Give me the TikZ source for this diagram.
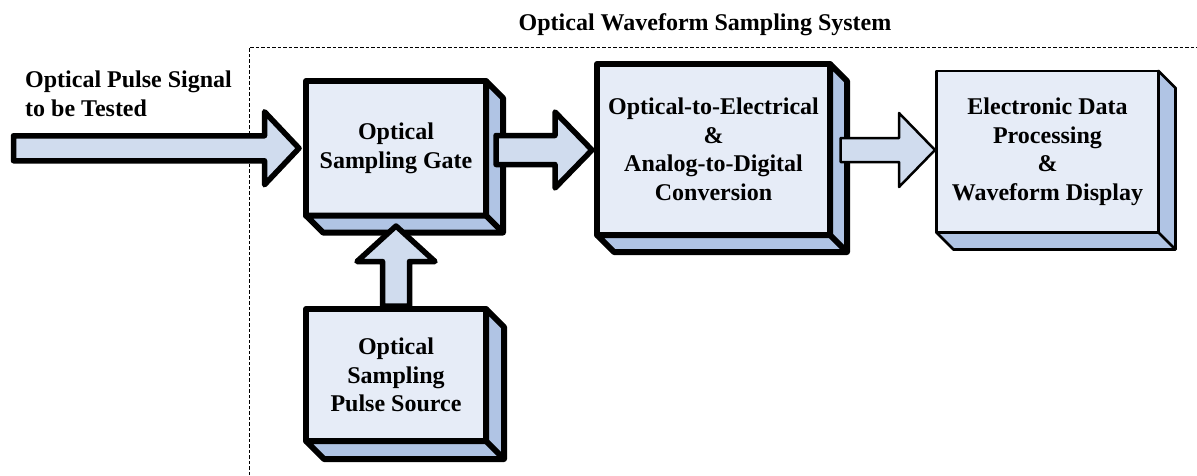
\documentclass[tikz,border=0pt]{standalone}
\usepackage{fontspec}
\setmainfont{Liberation Serif}
\usetikzlibrary{calc}

\definecolor{frontface}{HTML}{E6ECF7}
\definecolor{sideface}{HTML}{B0C4E4}
\definecolor{arrowfill}{HTML}{D0DCEE}

\tikzset{
  txt/.style={font=\bfseries\fontsize{24}{28.5}\selectfont},
  block/.style={txt, draw=black, fill=frontface, align=center, inner sep=0pt,
                outer sep=0pt, line join=round},
  heavy/.style={line width=6pt},
  light/.style={line width=2.8pt},
  slabface/.style={draw=black, fill=sideface, line join=round},
  blockarrow/.style={draw=black, fill=arrowfill, line join=round},
}

% side and bottom faces of a raised block: #1 style, #2 node, #3 depth
\newcommand\slab[3][]{%
  \filldraw[slabface,#1] (#2.north east) -- ++(#3,#3)
    -- ($(#2.south east)+(#3,#3)$) -- ($(#2.south west)+(#3,#3)$)
    -- (#2.south west) -- (#2.south east) -- cycle;
  \draw[slabface,#1] (#2.south east) -- ++(#3,#3);
}

% right-pointing block arrow: #1 style, #2 tail, #3 tip,
% #4 shaft half width, #5 head half width, #6 head length
\newcommand\rightarrowblock[6][]{%
  \filldraw[blockarrow,#1] let \p1=(#2), \p2=(#3) in
    (\x1,\y1+#4pt) -- (\x2-#6pt,\y1+#4pt) -- (\x2-#6pt,\y1+#5pt)
    -- (\x2,\y1) -- (\x2-#6pt,\y1-#5pt) -- (\x2-#6pt,\y1-#4pt)
    -- (\x1,\y1-#4pt) -- cycle;
}

% upward block arrow, same arguments
\newcommand\uparrowblock[6][]{%
  \filldraw[blockarrow,#1] let \p1=(#2), \p2=(#3) in
    (\x1-#4pt,\y1) -- (\x1-#4pt,\y2-#6pt) -- (\x1-#5pt,\y2-#6pt)
    -- (\x1,\y2) -- (\x1+#5pt,\y2-#6pt) -- (\x1+#4pt,\y2-#6pt)
    -- (\x1+#4pt,\y1) -- cycle;
}

\begin{document}
\begin{tikzpicture}[x=1pt,y=-1pt]
  \useasboundingbox (0,0) rectangle (1197,475);

  % system boundary
  \coordinate (frameA) at (249,475);
  \coordinate (frameB) at (249,47);
  \coordinate (frameC) at (1197,47);
  \draw[line width=1pt, dash pattern=on 3.5pt off 2pt] (frameA) -- (frameB) -- (frameC);
  \node[txt, anchor=base] (title) at (705,30.7) {Optical Waveform Sampling System};

  % input label
  \node[txt, align=left, anchor=north west, inner sep=0pt] (inlabel) at (25,71)
    {Optical Pulse Signal\\to be Tested};

  % blocks
  \node[block, heavy, minimum width=180pt, minimum height=134.5pt] (gate) at (396,148.25)
    {Optical\\Sampling Gate};
  \slab[heavy]{gate}{17}

  \node[block, heavy, minimum width=233pt, minimum height=171pt] (oe) at (713.5,149.5)
    {Optical-to-Electrical\\\&\\Analog-to-Digital\\Conversion};
  \slab[heavy]{oe}{17}

  \node[block, light, minimum width=222pt, minimum height=161.5pt] (edp) at (1047.5,151.75)
    {Electronic Data\\Processing\\\&\\Waveform Display};
  \slab[light]{edp}{17}

  \node[block, heavy, minimum width=180pt, minimum height=132pt] (pulse) at (396,375)
    {Optical\\Sampling\\Pulse Source};
  \slab[heavy]{pulse}{18}

  % connectors
  \coordinate (src) at (13.5,148.25);
  \coordinate (a1tip) at ($(gate.west)+(-7,0)$);
  \rightarrowblock[line width=5.5pt]{src}{a1tip}{12.5}{36.5}{34.5}

  \coordinate (a2tail) at ($(gate.east)+(10,1.75)$);
  \coordinate (a2tip) at ($(oe.west)+(-5,0.5)$);
  \rightarrowblock[line width=5.5pt]{a2tail}{a2tip}{14.5}{38}{37}

  \coordinate (a3tail) at ($(oe.east)+(10.5,0.5)$);
  \coordinate (a3tip) at ($(edp.west)+(-1.5,0)$);
  \rightarrowblock[line width=2.5pt]{a3tail}{a3tip}{12}{37}{36}

  \coordinate (a4tail) at ($(pulse.north)+(0,-3)$);
  \coordinate (a4tip) at ($(gate.south)+(0,10.5)$);
  \uparrowblock[line width=5.5pt]{a4tail}{a4tip}{13.5}{39}{35.5}
\end{tikzpicture}
\end{document}
